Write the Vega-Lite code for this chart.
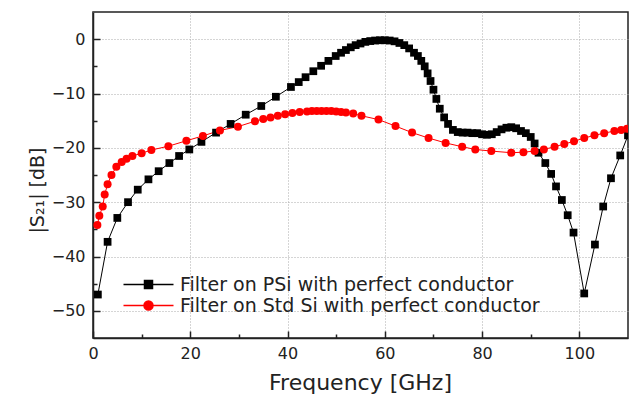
{
  "$schema": "https://vega.github.io/schema/vega-lite/v6.json",
  "width": 535,
  "height": 326,
  "autosize": {"type": "none"},
  "padding": {"left": 93, "top": 12, "right": 5, "bottom": 56},
  "background": "white",
  "config": {
    "font": "DejaVu Sans",
    "view": {"stroke": "#222", "strokeWidth": 1.5},
    "axis": {"labelColor": "#222", "titleColor": "#222", "titleFontWeight": "normal", "domainColor": "#222", "tickColor": "#222", "domainWidth": 1.5, "tickWidth": 1.5}
  },
  "resolve": {"axis": {"x": "independent", "y": "independent"}},
  "datasets": {
    "psi": [
      {"f": 1, "s21": -47}, {"f": 3, "s21": -37.3}, {"f": 5, "s21": -32.9}, {"f": 7.2, "s21": -30},
      {"f": 9.2, "s21": -27.7}, {"f": 11.4, "s21": -25.8}, {"f": 13.5, "s21": -24.3}, {"f": 15.7, "s21": -22.8},
      {"f": 17.7, "s21": -21.5}, {"f": 19.8, "s21": -20.3}, {"f": 22.3, "s21": -18.9}, {"f": 25.3, "s21": -17.2},
      {"f": 28.3, "s21": -15.6}, {"f": 31.4, "s21": -13.9}, {"f": 34.6, "s21": -12.3}, {"f": 37.6, "s21": -10.6},
      {"f": 40.7, "s21": -8.8}, {"f": 42.3, "s21": -7.9}, {"f": 43.7, "s21": -7.0}, {"f": 45.3, "s21": -5.9},
      {"f": 46.9, "s21": -4.9}, {"f": 48.4, "s21": -4.0}, {"f": 49.9, "s21": -3.1}, {"f": 51, "s21": -2.5},
      {"f": 52, "s21": -2.0}, {"f": 53, "s21": -1.5}, {"f": 54, "s21": -1.1}, {"f": 55, "s21": -0.8},
      {"f": 56, "s21": -0.5}, {"f": 57, "s21": -0.35}, {"f": 58, "s21": -0.25}, {"f": 59, "s21": -0.2},
      {"f": 60, "s21": -0.2}, {"f": 61, "s21": -0.25}, {"f": 62, "s21": -0.4}, {"f": 63, "s21": -0.7},
      {"f": 64, "s21": -1.1}, {"f": 65, "s21": -1.7}, {"f": 66, "s21": -2.5}, {"f": 66.8, "s21": -3.1},
      {"f": 67.5, "s21": -4.0}, {"f": 68.2, "s21": -5.0}, {"f": 68.8, "s21": -6.3}, {"f": 69.4, "s21": -7.7},
      {"f": 70, "s21": -9.3}, {"f": 70.6, "s21": -11.0}, {"f": 71.3, "s21": -12.8}, {"f": 72.2, "s21": -14.4},
      {"f": 73, "s21": -15.6}, {"f": 74, "s21": -16.7}, {"f": 75, "s21": -17.1}, {"f": 76, "s21": -17.2},
      {"f": 77, "s21": -17.2}, {"f": 78, "s21": -17.3}, {"f": 79, "s21": -17.3}, {"f": 80, "s21": -17.5},
      {"f": 81, "s21": -17.6}, {"f": 82, "s21": -17.5}, {"f": 83, "s21": -17.1}, {"f": 84, "s21": -16.6},
      {"f": 85, "s21": -16.3}, {"f": 86, "s21": -16.2}, {"f": 87, "s21": -16.4}, {"f": 88, "s21": -16.9},
      {"f": 89, "s21": -17.3}, {"f": 90, "s21": -18}, {"f": 90.8, "s21": -19.2}, {"f": 91.6, "s21": -20.9},
      {"f": 93, "s21": -22.8}, {"f": 94.2, "s21": -24.8}, {"f": 95.2, "s21": -27.1}, {"f": 96.4, "s21": -29.6},
      {"f": 97.6, "s21": -32.4}, {"f": 98.8, "s21": -35.6}, {"f": 101, "s21": -46.8}, {"f": 103.2, "s21": -37.8},
      {"f": 104.9, "s21": -30.8}, {"f": 106.5, "s21": -25.6}, {"f": 108.4, "s21": -21.4}, {"f": 110, "s21": -17.7}
    ],
    "stdsi": [
      {"f": 0.9, "s21": -34.2}, {"f": 1.3, "s21": -32.5}, {"f": 2.0, "s21": -30.8}, {"f": 2.4, "s21": -28.6},
      {"f": 3.0, "s21": -26.7}, {"f": 3.8, "s21": -25.0}, {"f": 4.8, "s21": -23.5}, {"f": 5.9, "s21": -22.6},
      {"f": 6.9, "s21": -22.0}, {"f": 8.1, "s21": -21.5}, {"f": 10, "s21": -21}, {"f": 12, "s21": -20.4},
      {"f": 15.5, "s21": -19.7}, {"f": 19.2, "s21": -18.7}, {"f": 22.6, "s21": -17.8}, {"f": 26.1, "s21": -16.8},
      {"f": 29.8, "s21": -16.1}, {"f": 33.3, "s21": -15.1}, {"f": 35, "s21": -14.7}, {"f": 36.5, "s21": -14.4},
      {"f": 38, "s21": -14.1}, {"f": 39.5, "s21": -13.8}, {"f": 41, "s21": -13.6}, {"f": 42.5, "s21": -13.4},
      {"f": 44, "s21": -13.3}, {"f": 45, "s21": -13.2}, {"f": 46, "s21": -13.2}, {"f": 47, "s21": -13.2},
      {"f": 48, "s21": -13.2}, {"f": 49, "s21": -13.2}, {"f": 50, "s21": -13.3}, {"f": 51, "s21": -13.4},
      {"f": 52, "s21": -13.5}, {"f": 53.5, "s21": -13.7}, {"f": 55.2, "s21": -14.1}, {"f": 58.7, "s21": -14.8},
      {"f": 62.2, "s21": -16.0}, {"f": 65.6, "s21": -17.2}, {"f": 69, "s21": -18.2}, {"f": 72.5, "s21": -19.1},
      {"f": 75.9, "s21": -19.8}, {"f": 78.6, "s21": -20.3}, {"f": 81.9, "s21": -20.6}, {"f": 86, "s21": -20.9},
      {"f": 88.5, "s21": -20.8}, {"f": 90.8, "s21": -20.6}, {"f": 92.7, "s21": -20.3}, {"f": 94.9, "s21": -19.8},
      {"f": 96.9, "s21": -19.3}, {"f": 98.9, "s21": -18.8}, {"f": 101, "s21": -18.2}, {"f": 103.1, "s21": -17.7},
      {"f": 105.1, "s21": -17.3}, {"f": 107.2, "s21": -16.9}, {"f": 108.6, "s21": -16.7}, {"f": 109.8, "s21": -16.5}
    ]
  },
  "layer": [
    {
      "data": {"name": "psi"},
      "transform": [{"calculate": "'Filter on PSi with perfect conductor'", "as": "series"}],
      "mark": {"type": "line", "strokeWidth": 1, "clip": true},
      "encoding": {
        "x": {"field": "f", "type": "quantitative", "scale": {"domain": [0, 110], "nice": false},
          "axis": {"orient": "bottom", "title": "Frequency [GHz]", "values": [0, 20, 40, 60, 80, 100], "grid": true, "gridDash": [1, 2], "gridColor": "#aaa", "tickSize": -7, "labelPadding": 14, "labelFontSize": 16, "titleFontSize": 22, "titleX": 267, "titleY": 44, "titleBaseline": "middle", "titleAlign": "center", "labelFlush": false}},
        "y": {"field": "s21", "type": "quantitative", "scale": {"domain": [-55, 5], "nice": false},
          "axis": {"orient": "left", "title": "|S₂₁| [dB]", "values": [-50, -40, -30, -20, -10, 0], "grid": true, "gridDash": [1, 2], "gridColor": "#aaa", "tickSize": -7, "labelPadding": 15, "labelFontSize": 16, "titleFontSize": 19, "titleX": -56, "titleY": 178, "titleAngle": -90, "titleBaseline": "middle", "titleAlign": "center"}},
        "color": {"field": "series", "type": "nominal",
          "scale": {"domain": ["Filter on PSi with perfect conductor", "Filter on Std Si with perfect conductor"], "range": ["#000000", "#ff0000"]},
          "legend": {"title": null, "orient": "none", "legendX": 46, "legendY": 263, "labelFontSize": 19, "labelLimit": 0, "labelColor": "#222", "symbolSize": 100, "symbolStrokeWidth": 1.5, "labelOffset": 22, "symbolOffset": 0, "rowPadding": 1,
            "encode": {"symbols": {"update": {"size": {"value": 100}, "shape": {"signal": "datum.value === 'Filter on PSi with perfect conductor' ? 'M-5,0H5M-0.8,-0.8H0.8V0.8H-0.8Z' : 'M-5,0H5M-0.9,0A0.9,0.9,0,1,1,0.9,0A0.9,0.9,0,1,1,-0.9,0Z'"}, "fill": {"signal": "datum.value === 'Filter on PSi with perfect conductor' ? '#000' : '#f00'"}, "stroke": {"signal": "datum.value === 'Filter on PSi with perfect conductor' ? '#444' : '#f44'"}, "opacity": {"value": 1}}}}}}
      }
    },
    {
      "data": {"name": "stdsi"},
      "transform": [{"calculate": "'Filter on Std Si with perfect conductor'", "as": "series"}],
      "mark": {"type": "line", "strokeWidth": 1, "clip": true},
      "encoding": {
        "x": {"field": "f", "type": "quantitative", "axis": null},
        "y": {"field": "s21", "type": "quantitative", "axis": null},
        "color": {"field": "series", "type": "nominal"}
      }
    },
    {
      "data": {"name": "psi"},
      "mark": {"type": "point", "shape": "square", "filled": true, "size": 60, "opacity": 1, "color": "#000", "clip": true},
      "encoding": {
        "x": {"field": "f", "type": "quantitative",
          "axis": {"orient": "bottom", "values": [10, 30, 50, 70, 90], "labels": false, "title": null, "domain": false, "grid": false, "tickSize": -4}},
        "y": {"field": "s21", "type": "quantitative",
          "axis": {"orient": "left", "values": [-45, -35, -25, -15, -5], "labels": false, "title": null, "domain": false, "grid": false, "tickSize": -4}}
      }
    },
    {
      "data": {"name": "stdsi"},
      "mark": {"type": "point", "shape": "circle", "filled": true, "size": 64, "opacity": 1, "color": "#ff0000", "clip": true},
      "encoding": {
        "x": {"field": "f", "type": "quantitative", "axis": null},
        "y": {"field": "s21", "type": "quantitative", "axis": null}
      }
    }
  ]
}
